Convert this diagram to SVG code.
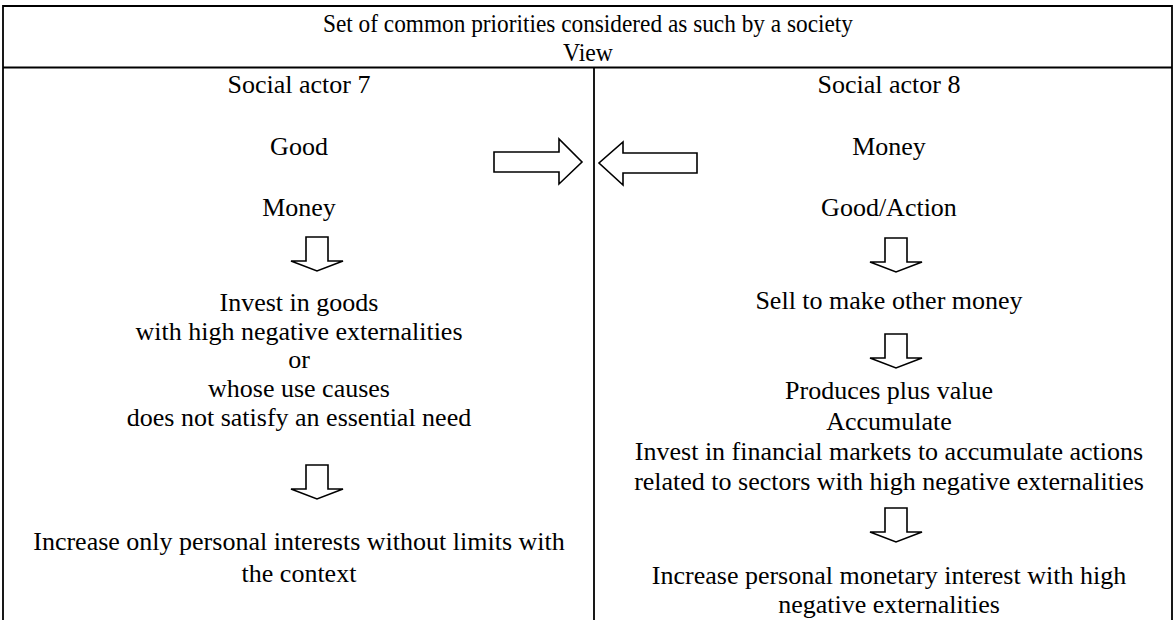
<svg xmlns="http://www.w3.org/2000/svg" width="1175" height="620" viewBox="0 0 1175 620">
<style>
text{font-family:"Liberation Serif","Times New Roman",serif;font-size:26px;fill:#000;text-anchor:middle}
.ln{stroke:#000;stroke-width:1.8;fill:none}
.ar{fill:#fff;stroke:#000;stroke-width:1.6;stroke-linejoin:miter}
</style>
<defs>
<path id="down" d="M-11,0 H11 V24 H26 L0,34 L-26,24 H-11 Z"/>
</defs>
<rect width="1175" height="620" fill="#fff"/>
<g id="table">
<path class="ln" d="M3,620 V6 H1172 V620 M3,67.5 H1172 M594,67.5 V620"/>
</g>
<g id="header">
<text x="588" y="32" textLength="530" lengthAdjust="spacingAndGlyphs">Set of common priorities considered as such by a society</text>
<text x="588" y="61" textLength="50" lengthAdjust="spacingAndGlyphs">View</text>
</g>
<g id="actor7">
<text x="299" y="93">Social actor 7</text>
<text x="299" y="155">Good</text>
<text x="299" y="216">Money</text>
<text x="299" y="311">Invest in goods</text>
<text x="299" y="339.5">with high negative externalities</text>
<text x="299" y="368">or</text>
<text x="299" y="397">whose use causes</text>
<text x="299" y="426">does not satisfy an essential need</text>
<text x="299" y="550">Increase only personal interests without limits with</text>
<text x="299" y="582">the context</text>
</g>
<g id="actor8">
<text x="889" y="93">Social actor 8</text>
<text x="889" y="155">Money</text>
<text x="889" y="216">Good/Action</text>
<text x="889" y="309">Sell to make other money</text>
<text x="889" y="399">Produces plus value</text>
<text x="889" y="430">Accumulate</text>
<text x="889" y="460">Invest in financial markets to accumulate actions</text>
<text x="889" y="490">related to sectors with high negative externalities</text>
<text x="889" y="584">Increase personal monetary interest with high</text>
<text x="889" y="613">negative externalities</text>
</g>
<g id="connectors">
<path class="ar" d="M494,152 H559 V139 L582,162 L559,184 V172 H494 Z"/>
<path class="ar" d="M697,153 H623 V142 L599,163 L623,185 V173 H697 Z"/>
<use href="#down" class="ar" x="317" y="237"/>
<use href="#down" class="ar" x="317" y="465"/>
<use href="#down" class="ar" x="896" y="238"/>
<use href="#down" class="ar" x="896" y="334"/>
<use href="#down" class="ar" x="896" y="508"/>
</g>
</svg>
